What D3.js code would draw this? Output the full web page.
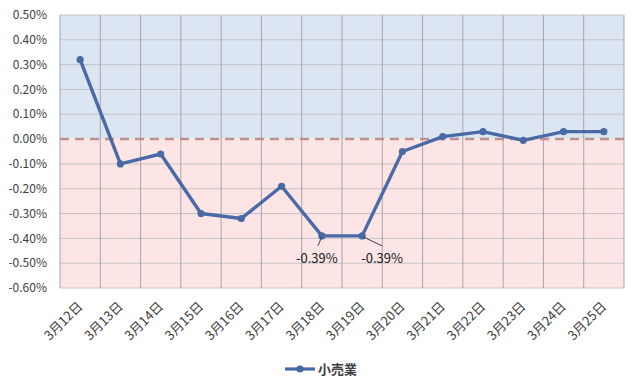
<!DOCTYPE html>
<html><head><meta charset="utf-8">
<script src="https://cdn.jsdelivr.net/npm/d3@7"></script>
<style>body{margin:0;background:#fff}svg{display:block}text{font-family:"Noto Sans CJK JP","Noto Sans",sans-serif}</style>
</head><body><svg id="c" width="640" height="392"></svg>
<script>
const categories = ["3月12日","3月13日","3月14日","3月15日","3月16日","3月17日","3月18日","3月19日","3月20日","3月21日","3月22日","3月23日","3月24日","3月25日"];
const values = [0.32,-0.10,-0.06,-0.30,-0.32,-0.19,-0.39,-0.39,-0.05,0.01,0.03,-0.005,0.03,0.03];
const yTicks = [0.5,0.4,0.3,0.2,0.1,0,-0.1,-0.2,-0.3,-0.4,-0.5,-0.6];
const seriesName = "小売業";
const labelled = [6,7];

const svg = d3.select("#c");
const L=60,R=624,T=15,B=288;
const x = d3.scaleBand().domain(categories).range([L,R]);
const y = d3.scaleLinear().domain([-0.6,0.5]).range([B,T]);

svg.append("rect").attr("x",L).attr("y",T).attr("width",R-L).attr("height",y(0)-T).attr("fill","#dce6f2");
svg.append("rect").attr("x",L).attr("y",y(0)).attr("width",R-L).attr("height",B-y(0)).attr("fill","#fde5e5");

// horizontal grid
svg.append("g").selectAll("line").data(yTicks).join("line")
  .attr("x1",L).attr("x2",R).attr("y1",d=>y(d)).attr("y2",d=>y(d))
  .attr("stroke",d=>d===0?"none":"#c4c4c8").attr("stroke-width",1);
// vertical grid
const bounds = categories.map(c=>x(c)).concat([R]);
svg.append("g").selectAll("line").data(bounds).join("line")
  .attr("x1",d=>d).attr("x2",d=>d).attr("y1",T).attr("y2",B)
  .attr("stroke","#a8a4a8").attr("stroke-width",1);
// zero dashed
svg.append("line").attr("x1",L).attr("x2",R).attr("y1",y(0)).attr("y2",y(0))
  .attr("stroke","#c0908e").attr("stroke-width",2.5).attr("stroke-dasharray","9,6");

// y labels
svg.append("g").selectAll("text").data(yTicks).join("text")
  .attr("x",47).attr("y",d=>y(d)).attr("dy","0.35em").attr("text-anchor","end")
  .attr("font-size",12).attr("fill","#404040").text(d=>d.toFixed(2)+"%");

// x labels
svg.append("g").selectAll("text").data(categories).join("text")
  .attr("transform",d=>`translate(${x(d)+x.bandwidth()/2},${B+16}) rotate(-45)`)
  .attr("text-anchor","end").attr("dy","0.35em")
  .attr("font-size",13).attr("fill","#404040").text(d=>d);

const cx = (d,i)=>x(categories[i])+x.bandwidth()/2;
const line = d3.line().x((d,i)=>cx(d,i)).y(d=>y(d));
svg.append("path").datum(values).attr("d",line).attr("fill","none")
  .attr("stroke","#4a6aa6").attr("stroke-width",3.4).attr("stroke-linejoin","round");
svg.append("g").selectAll("circle").data(values).join("circle")
  .attr("cx",(d,i)=>cx(d,i)).attr("cy",d=>y(d)).attr("r",3.6).attr("fill","#4a6aa6");

// data labels
labelled.forEach((i,k)=>{
  const px=cx(values[i],i), py=y(values[i]);
  const lx = k===0 ? px-4 : px+20, ly = py+10;
  svg.append("line").attr("x1",k===0?px:px+1).attr("y1",py+1).attr("x2",lx).attr("y2",ly)
    .attr("stroke","#404040").attr("stroke-width",1);
  svg.append("text").attr("x",k===0?px-5:px+20).attr("y",py+27).attr("text-anchor","middle")
    .attr("font-size",13).attr("fill","#202020").text(values[i].toFixed(2)+"%");
});

// legend
svg.append("line").attr("x1",285).attr("x2",315).attr("y1",369).attr("y2",369).attr("stroke","#4a6aa6").attr("stroke-width",3.2);
svg.append("circle").attr("cx",300).attr("cy",369).attr("r",3.6).attr("fill","#4a6aa6");
svg.append("text").attr("x",318).attr("y",369).attr("dy","0.35em").attr("font-size",13).attr("font-weight","bold").attr("fill","#404040").text(seriesName);
</script></body></html>
